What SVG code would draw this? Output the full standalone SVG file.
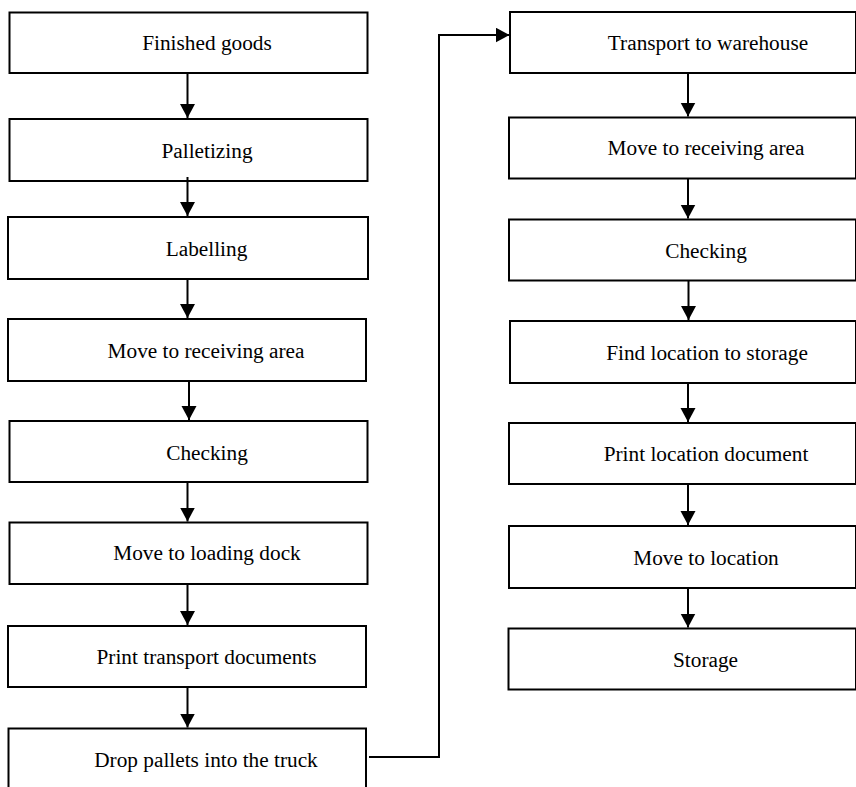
<svg xmlns="http://www.w3.org/2000/svg" width="856" height="787" viewBox="0 0 856 787" font-family="'Liberation Serif', 'Times New Roman', Times, serif">
  <style>
    .box { fill: #ffffff; stroke: #000000; stroke-width: 2; }
    .label { font-family: 'Liberation Serif', 'Times New Roman', Times, serif; font-size: 21.3px; fill: #000000; text-anchor: middle; }
    .link { fill: none; stroke: #000000; stroke-width: 2; marker-end: url(#head); }
    .plain { fill: none; stroke: #000000; stroke-width: 2; }
  </style>
  <defs>
    <marker id="head" markerUnits="userSpaceOnUse" markerWidth="15" markerHeight="16" refX="14" refY="7.5" orient="auto">
      <path d="M0,0 L14,7.5 L0,15 Z" fill="#000000"/>
    </marker>
  </defs>
  <rect width="856" height="787" fill="#ffffff"/>

  <!-- left column: production side -->
  <g id="finished-goods">
    <rect class="box" x="9.5" y="12.5" width="358" height="60.5"/>
    <text class="label" x="207" y="50">Finished goods</text>
  </g>
  <g id="palletizing">
    <rect class="box" x="9.5" y="119" width="358" height="62"/>
    <text class="label" x="207" y="158">Palletizing</text>
  </g>
  <g id="labelling">
    <rect class="box" x="8" y="217" width="360" height="62"/>
    <text class="label" x="206.5" y="256">Labelling</text>
  </g>
  <g id="move-to-receiving-area-1">
    <rect class="box" x="8" y="319" width="358" height="62"/>
    <text class="label" x="206" y="358">Move to receiving area</text>
  </g>
  <g id="checking-1">
    <rect class="box" x="9.5" y="421" width="358" height="61"/>
    <text class="label" x="207" y="460">Checking</text>
  </g>
  <g id="move-to-loading-dock">
    <rect class="box" x="9.5" y="522.5" width="358" height="61.5"/>
    <text class="label" x="207" y="560">Move to loading dock</text>
  </g>
  <g id="print-transport-documents">
    <rect class="box" x="8" y="626" width="358" height="61"/>
    <text class="label" x="206.5" y="663.5">Print transport documents</text>
  </g>
  <g id="drop-pallets">
    <rect class="box" x="8.5" y="728.5" width="357.5" height="75"/>
    <text class="label" x="206" y="766.5">Drop pallets into the truck</text>
  </g>

  <!-- right column: warehouse side -->
  <g id="transport-to-warehouse">
    <rect class="box" x="510" y="12" width="346" height="61"/>
    <text class="label" x="708" y="50">Transport to warehouse</text>
  </g>
  <g id="move-to-receiving-area-2">
    <rect class="box" x="509" y="117.5" width="347" height="61"/>
    <text class="label" x="706" y="155">Move to receiving area</text>
  </g>
  <g id="checking-2">
    <rect class="box" x="509" y="219.5" width="347" height="61"/>
    <text class="label" x="706" y="258">Checking</text>
  </g>
  <g id="find-location">
    <rect class="box" x="510" y="321" width="346" height="62"/>
    <text class="label" x="707" y="360">Find location to storage</text>
  </g>
  <g id="print-location-document">
    <rect class="box" x="509" y="423" width="347" height="61"/>
    <text class="label" x="706" y="461">Print location document</text>
  </g>
  <g id="move-to-location">
    <rect class="box" x="509" y="526" width="347" height="62"/>
    <text class="label" x="706" y="565">Move to location</text>
  </g>
  <g id="storage">
    <rect class="box" x="508.5" y="628.5" width="347.5" height="61"/>
    <text class="label" x="705.5" y="667">Storage</text>
  </g>

  <!-- connectors -->
  <g id="connectors">
    <line class="link" x1="187.5" y1="73" x2="187.5" y2="118"/>
    <line class="link" x1="187.5" y1="177" x2="187.5" y2="216"/>
    <line class="link" x1="187.5" y1="279" x2="187.5" y2="318"/>
    <line class="link" x1="189" y1="381" x2="189" y2="420"/>
    <line class="link" x1="187.5" y1="482" x2="187.5" y2="521.5"/>
    <line class="link" x1="187.5" y1="584" x2="187.5" y2="625"/>
    <line class="link" x1="187.5" y1="687" x2="187.5" y2="727.5"/>

    <path class="plain" d="M369,757 H439 V35"/>
    <line class="link" x1="438" y1="35" x2="509.5" y2="35"/>

    <line class="link" x1="688" y1="73" x2="688" y2="116.5"/>
    <line class="link" x1="688" y1="178.5" x2="688" y2="218.5"/>
    <line class="link" x1="688.5" y1="280.5" x2="688.5" y2="320"/>
    <line class="link" x1="688" y1="383" x2="688" y2="422"/>
    <line class="link" x1="688" y1="484" x2="688" y2="525"/>
    <line class="link" x1="688" y1="588" x2="688" y2="627.5"/>
  </g>
</svg>
